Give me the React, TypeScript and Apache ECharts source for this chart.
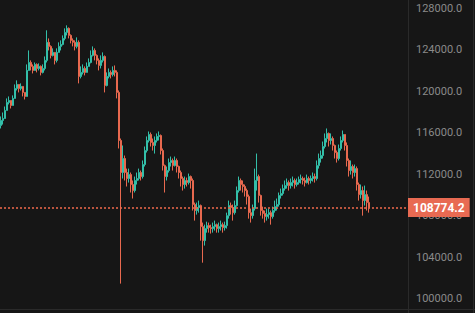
import React, { useEffect, useRef } from "react";
import * as echarts from "echarts";

// Each entry: [close, low, high]; the open of each candle is the previous close.
const firstOpen = 116700;

const rallyPhase: [number, number, number][] = [
  [117180, 116410, 117570], [117370, 116790, 117950], [118150, 117570, 118530], [118920, 118340, 119310],
  [119110, 118730, 119500], [118630, 118340, 119110], [119310, 118730, 119600], [120270, 119500, 120660],
  [120660, 120080, 121050], [120270, 119890, 120660], [120470, 120080, 120760], [119890, 119500, 120470],
  [119500, 119210, 119890], [122010, 119500, 122590], [122780, 122200, 123940], [122400, 122010, 122980],
  [122010, 121720, 122590], [122590, 122010, 122780], [122200, 121820, 122690], [122400, 122010, 122690],
  [121820, 121530, 122490], [122200, 121720, 122590], [122980, 122010, 123360], [124720, 122780, 125880],
  [124330, 123940, 125100], [123460, 123170, 124430], [123750, 123360, 124140], [122980, 122590, 123750],
  [123750, 122780, 124140], [124330, 123750, 124720], [124520, 123940, 124910], [125100, 124430, 125390],
  [125680, 124910, 126070], [126070, 125390, 126360],
];

const topPhase: [number, number, number][] = [
  [125390, 125100, 126160], [124910, 124620, 125490], [124720, 124330, 125100], [124330, 123940, 124910],
  [124720, 124140, 125200], [121430, 120760, 124910], [121820, 121240, 122400], [122200, 121620, 122590],
  [121820, 121530, 122400], [122400, 121820, 122780], [122780, 122400, 123170], [123460, 122690, 123940],
  [123940, 123360, 124330], [123460, 122980, 124140], [122980, 122590, 123560], [122490, 122010, 123170],
  [122980, 122200, 123460], [123360, 122780, 123750], [120560, 119890, 123460], [121430, 120470, 121820],
  [121820, 121240, 122200], [121620, 121240, 122010], [122010, 121430, 122400], [121820, 121430, 122490],
  [119890, 119310, 122010],
];

const crashPhase: [number, number, number][] = [
  [115250, 114480, 120080], [112160, 101440, 115440], [113510, 111580, 114770], [112160, 111390, 113800],
  [111580, 110810, 112540], [111960, 111190, 112540], [111000, 110230, 112160], [110420, 109650, 111390],
  [111390, 110230, 111770], [111580, 111000, 112160], [112160, 111390, 112540], [111770, 111390, 112350],
  [112930, 111580, 113320], [114280, 112740, 114670], [115250, 114090, 115640], [115830, 115060, 116120],
  [115060, 114670, 116020], [114770, 114280, 115440], [115250, 113990, 115640], [115640, 115060, 115930],
  [115730, 115250, 116120], [114280, 113900, 115830], [112830, 112350, 114480], [111770, 110230, 112930],
  [112350, 111390, 112740], [113120, 112160, 113510], [113320, 112740, 113700], [112830, 112350, 113510],
  [113320, 112740, 113700], [112740, 112160, 113510], [112160, 111580, 112830], [111580, 110810, 112350],
  [111000, 110420, 111770], [111390, 110610, 111770], [111190, 110810, 111670], [111770, 111000, 112060],
  [111390, 110610, 111870],
];

const basePhase: [number, number, number][] = [
  [109070, 108490, 111580], [108490, 107520, 109260], [108780, 108100, 109260], [108970, 108290, 109450],
  [106940, 105590, 109070], [105590, 103460, 107330], [106750, 105110, 107130], [107040, 106360, 107420],
  [106840, 106360, 107330], [106750, 106270, 107130], [106940, 106360, 107330], [107130, 106560, 107520],
  [106750, 106360, 107230], [106940, 106360, 107330], [107130, 106560, 107520], [106840, 106360, 107330],
  [107040, 106560, 107420], [108000, 106750, 108290], [108970, 107710, 109450], [108780, 108100, 109260],
  [108290, 107520, 109070], [108970, 108100, 109450], [110420, 108870, 110810], [111390, 110230, 111770],
  [111000, 110420, 111580], [110810, 110230, 111390], [110420, 109840, 111000], [109840, 109070, 110610],
  [108290, 107710, 110030], [108000, 107330, 108680], [108680, 107710, 109070],
];

const reboundPhase: [number, number, number][] = [
  [111390, 108490, 112540], [111770, 110420, 113990], [109940, 109260, 111960], [108490, 108000, 110030],
  [108200, 107710, 108870], [107910, 107330, 108490], [108100, 107520, 108680], [108290, 107710, 108680],
  [107910, 107130, 108490], [108490, 107710, 108870], [108870, 108290, 109450], [109070, 108490, 109650],
  [109940, 108870, 110230], [110130, 109650, 110610], [110610, 109940, 111000], [110900, 110420, 111390],
  [111190, 110610, 111580], [110900, 110420, 111390], [111190, 110610, 111580], [111390, 110810, 111770],
  [111000, 110610, 111580], [111190, 110810, 111580], [111480, 111000, 111770], [111580, 111100, 111960],
  [111390, 111000, 111770], [111190, 110810, 111670], [111580, 111100, 111960], [111390, 111000, 111770],
  [111580, 111100, 111870], [111770, 111290, 112160], [111580, 111190, 112060],
];

const finalPhase: [number, number, number][] = [
  [112830, 111390, 113320], [113510, 112540, 113990], [113800, 113120, 114280], [114670, 113510, 115150],
  [115440, 114480, 115930], [115930, 115060, 116410], [115250, 114670, 116020], [115440, 114860, 115930],
  [114770, 114280, 115640], [114090, 113510, 114860], [113510, 113120, 114280], [114480, 113320, 114860],
  [115250, 114280, 115640], [115830, 115060, 116210], [114770, 114280, 115730], [113320, 112740, 115060],
  [112350, 111770, 113510], [112740, 111960, 113320], [112160, 111580, 112930], [112540, 111770, 112930],
  [111000, 110420, 112740], [110030, 109450, 111190], [110420, 109650, 111000], [109450, 108000, 110810],
  [110030, 108970, 110900], [109260, 108490, 110420], [108774.2, 108290, 109840],
];

const lastPrice = 108774.2;
const yMin = 96000;
const yMax = 132000;
const yInterval = 4000;
const rightPadCandles = 19;

const UP = "#33bfa9";
const DOWN = "#e8694f";
const BG = "#161616";

export default function App() {
  const ref = useRef<HTMLDivElement>(null);

  useEffect(() => {
    document.body.style.margin = "0";
    const chart = echarts.init(ref.current!, null, { renderer: "svg" });

    const all = [...rallyPhase, ...topPhase, ...crashPhase, ...basePhase, ...reboundPhase, ...finalPhase];
    let prev = firstOpen;
    const ohlc: any[] = all.map(([c, l, h]) => {
      const o = prev;
      prev = c;
      return [o, c, Math.min(l, o, c), Math.max(h, o, c)];
    });
    for (let i = 0; i < rightPadCandles; i++) ohlc.push("-");
    const cats = ohlc.map((_, i) => String(i));

    chart.setOption({
      animation: false,
      backgroundColor: BG,
      grid: { left: -1, right: 67, top: 0.9, bottom: 0 },
      xAxis: {
        type: "category",
        data: cats,
        axisLine: { show: false },
        axisTick: { show: false },
        axisLabel: { show: false },
        splitLine: { show: false },
      },
      yAxis: {
        type: "value",
        position: "right",
        min: yMin,
        max: yMax,
        interval: yInterval,
        axisLine: { show: true, lineStyle: { color: "#2a2a2a", width: 1 } },
        axisTick: { show: false },
        splitLine: { show: false },
        axisLabel: {
          color: "#8a8a8a",
          fontSize: 11,
          fontFamily: "Roboto, sans-serif",
          margin: 8,
          showMinLabel: false,
          showMaxLabel: false,
          formatter: (v: number) => v.toFixed(1),
        },
      },
      graphic: [
        { type: "line", shape: { x1: 473.5, y1: 0, x2: 473.5, y2: 374 }, style: { stroke: "#2a2a2a", lineWidth: 1 } },
        { type: "line", shape: { x1: 0, y1: 343.5, x2: 475, y2: 343.5 }, style: { stroke: "#2a2a2a", lineWidth: 1 } },
      ],
      series: [
        {
          type: "candlestick",
          data: ohlc,
          barWidth: 1.6,
          clip: false,
          itemStyle: {
            color: UP,
            color0: DOWN,
            borderColor: UP,
            borderColor0: DOWN,
            borderWidth: 1,
          },
          markLine: {
            silent: true,
            symbol: ["none", "none"],
            data: [{ yAxis: lastPrice }],
            lineStyle: { color: "#f06a4c", type: [2, 2], width: 1.5, opacity: 1 },
            emphasis: { disabled: true },
            label: {
              show: true,
              position: "end",
              distance: 0,
              formatter: lastPrice.toFixed(1),
              backgroundColor: "#e86a52",
              color: "#ffffff",
              fontWeight: "bold",
              fontSize: 12,
              fontFamily: "Roboto, sans-serif",
              lineHeight: 13,
              padding: [3, 5, 3, 5],
            },
          },
        },
      ],
    });

    return () => chart.dispose();
  }, []);

  return (
    <div style={{ position: "fixed", left: 0, top: 0, width: 475, height: 313, overflow: "hidden", background: BG }}>
      <div ref={ref} style={{ position: "absolute", left: 0, top: -34, width: 475, height: 374 }} />
    </div>
  );
}
